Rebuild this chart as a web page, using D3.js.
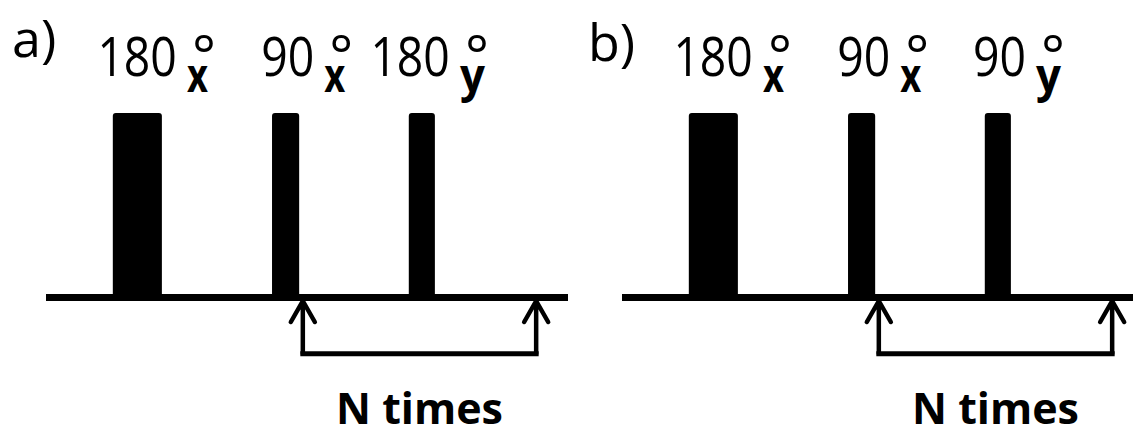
<!DOCTYPE html>
<html>
<head>
<meta charset="utf-8">
<script src="https://cdn.jsdelivr.net/npm/d3@7"></script>
<style>
  body { margin: 0; background: #fff; }
  text { fill: #000; }
</style>
</head>
<body>
<div id="chart"></div>
<script>
// panel labels
var panels = ["a)", "b)"];

// pulse timing (start, end) along the sequence, arbitrary time units 0..100
var pulseStart = [12.8, 43.3, 69.5];
var pulseEnd = [22.2, 48.5, 74.5];

// flip angles (degrees) per panel, and pulse phases
var anglesA = [180, 90, 180];
var anglesB = [180, 90, 90];
var phases = ["x", "x", "y"];

// repeated block: from end of 2nd pulse to end of sequence
var loopTimes = [49.2, 93.9];
var loopLabel = "N times";

var angles = [anglesA, anglesB];

const canvWidth = 1133,
    canvHeight = 429;

const svg = d3.select("#chart").append("svg")
    .attr("width", canvWidth)
    .attr("height", canvHeight);

// one band per panel, time scale inside each band
const panelX = d3.scaleBand().domain(panels).range([46, 46 + 576 * 2]);
const x = d3.scaleLinear().domain([0, 100]).range([0, 522]);
const y = d3.scaleLinear().domain([0, 1]).range([297.5, 113]);

const lineW = 7;
const bracketLevel = -0.305;

panels.forEach(function (p, pi) {
    const g = svg.append("g")
        .attr("transform", `translate(${panelX(p)},0)`);

    // panel label
    g.append("text")
        .attr("x", -34)
        .attr("y", 57 + pi * 4)
        .attr("font-family", "'Open Sans', sans-serif")
        .attr("font-size", 52)
        .text(p);

    // pulses
    g.selectAll(".pulse")
        .data(pulseStart)
        .enter()
        .append("rect")
        .attr("class", "pulse")
        .attr("x", (d, i) => x(d))
        .attr("y", y(1))
        .attr("width", (d, i) => x(pulseEnd[i]) - x(d))
        .attr("height", y(0) - y(1) + 2)
        .attr("rx", 3)
        .attr("fill", "#000");

    // time axis line
    g.append("line")
        .attr("x1", x(0))
        .attr("x2", x(100))
        .attr("y1", y(0))
        .attr("y2", y(0))
        .attr("stroke", "#000")
        .attr("stroke-width", lineW);

    // pulse labels: angle, then phase subscript with the degree sign above it
    angles[pi].forEach(function (a, i) {
        const numTxt = String(a);
        const numLen = 26.5 * numTxt.length;
        const numEnd = x(pulseEnd[i]) + 15;
        const subX = numEnd + 10;
        const subW = phases[i] == "y" ? 25 : 21;

        const t = g.append("text")
            .attr("font-family", "'Open Sans', sans-serif");

        t.append("tspan")
            .attr("x", numEnd - numLen)
            .attr("y", 76)
            .attr("font-size", 54.5)
            .attr("textLength", numLen)
            .attr("lengthAdjust", "spacingAndGlyphs")
            .text(numTxt);

        t.append("tspan")
            .attr("x", subX)
            .attr("y", 92)
            .attr("font-weight", "bold")
            .attr("font-size", 47)
            .attr("textLength", subW)
            .attr("lengthAdjust", "spacingAndGlyphs")
            .text(phases[i]);

        t.append("tspan")
            .attr("x", subX + 5)
            .attr("y", 76)
            .attr("font-size", 56)
            .text("\u00b0");
    });

    // loop arrows
    const tipY = y(0) + lineW / 2;
    const bY = y(bracketLevel);
    g.selectAll(".arrow")
        .data(loopTimes)
        .enter()
        .append("path")
        .attr("class", "arrow")
        .attr("d", d => `M${x(d)},${tipY} L${x(d)},${bY} M${x(d) - 12},${tipY + 21} L${x(d)},${tipY} L${x(d) + 12},${tipY + 21}`)
        .attr("fill", "none")
        .attr("stroke", "#000")
        .attr("stroke-width", 4.5)
        .attr("stroke-linecap", "round")
        .attr("stroke-linejoin", "miter");

    g.append("line")
        .attr("x1", x(loopTimes[0]))
        .attr("x2", x(loopTimes[1]))
        .attr("y1", bY)
        .attr("y2", bY)
        .attr("stroke", "#000")
        .attr("stroke-width", 5)
        .attr("stroke-linecap", "square");

    g.append("text")
        .attr("x", x(d3.mean(loopTimes)))
        .attr("y", 424)
        .attr("text-anchor", "middle")
        .attr("font-family", "'Open Sans', sans-serif")
        .attr("font-weight", "bold")
        .attr("font-size", 43)
        .text(loopLabel);
});
</script>
</body>
</html>
